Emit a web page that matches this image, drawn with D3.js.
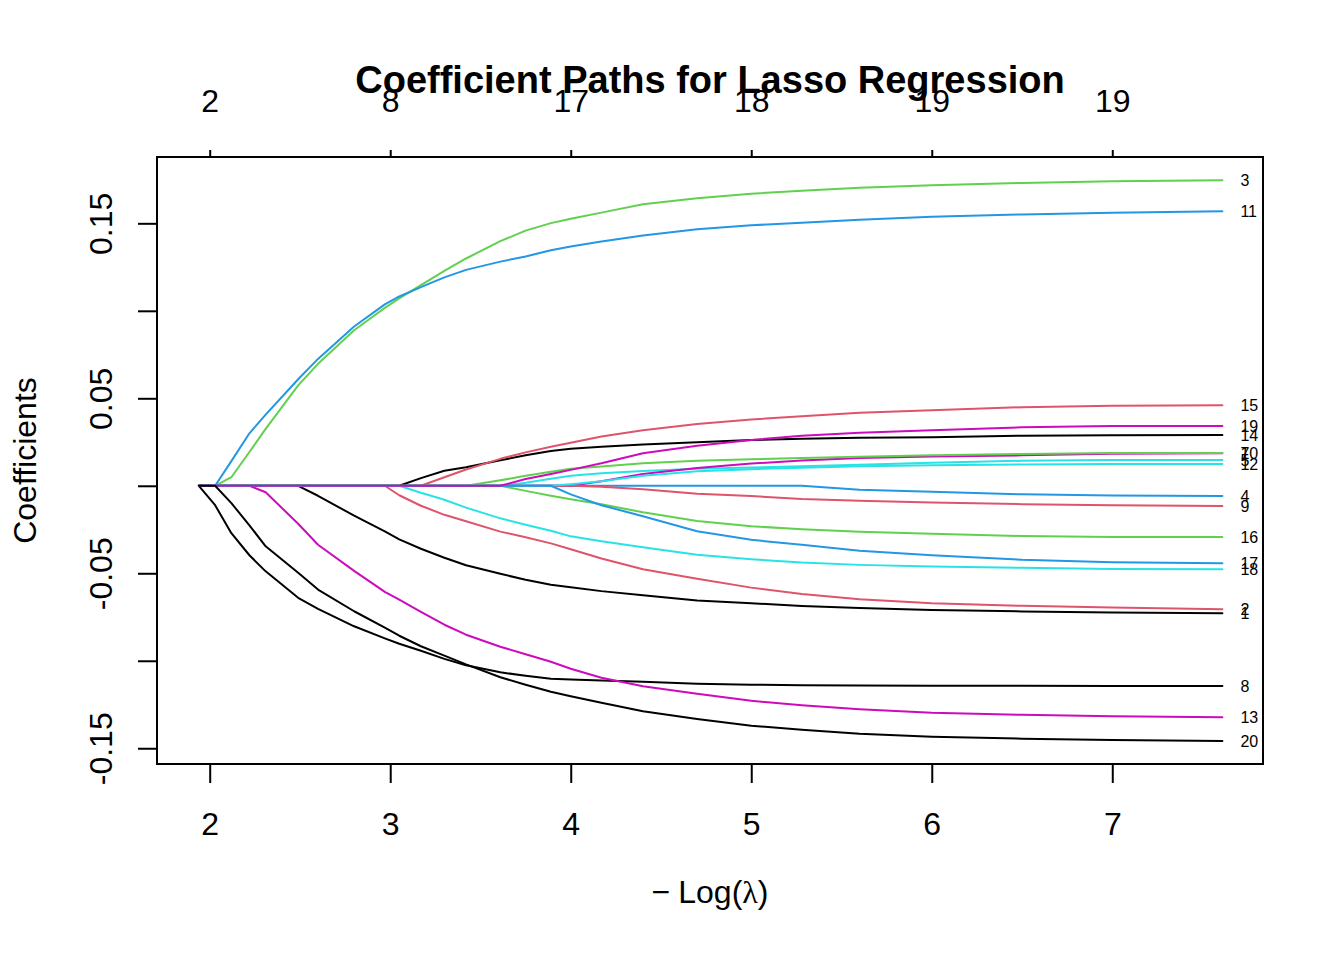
<!DOCTYPE html>
<html lang="en">
<head>
  <meta charset="UTF-8">
  <title>Coefficient Paths for Lasso Regression</title>
  <script src="https://cdn.jsdelivr.net/npm/d3@7"></script>
  <style>
    body { margin: 0; background: #fff; }
    text { font-family: "Liberation Sans", Arial, sans-serif; fill: #000; }
  </style>
</head>
<body>
<svg></svg>
<script>
  const width = 1344, height = 960
  const box = {left: 157, right: 1263, top: 157, bottom: 764}

  const negLogLambda = [1.94, 2.03, 2.12, 2.22, 2.31, 2.49, 2.6, 2.8, 2.97, 3.05, 3.17, 3.3, 3.42, 3.61,
    3.75, 3.89, 4.0, 4.17, 4.4, 4.7, 5.0, 5.28, 5.6, 6.0, 6.5, 7.0, 7.61]

  // coefficient of each variable along the path (variable 6 never leaves zero, so it is not drawn)
  const b1 = [0, 0, 0, 0, 0, 0, -0.0057, -0.0171, -0.026, -0.0306, -0.036, -0.0411, -0.0454, -0.0503,
    -0.0537, -0.0566, -0.058, -0.0602, -0.0625, -0.0656, -0.0671, -0.0687, -0.0699, -0.071, -0.0718, -0.0724, -0.0729]
  const b2 = [0, 0, 0, 0, 0, 0, 0, 0, 0, -0.0054, -0.0114, -0.0166, -0.0203, -0.0262,
    -0.0294, -0.0329, -0.0363, -0.0416, -0.0477, -0.0531, -0.0582, -0.0619, -0.0649, -0.0671, -0.0686, -0.0695, -0.0706]
  const b3 = [0, 0, 0.0049, 0.0193, 0.0325, 0.0574, 0.0697, 0.0889, 0.1017, 0.1071, 0.1147, 0.1228, 0.1299, 0.1398,
    0.1458, 0.1501, 0.1526, 0.1561, 0.1609, 0.1643, 0.1669, 0.1686, 0.1703, 0.1717, 0.1731, 0.174, 0.1746]
  const b4 = [0, 0, 0, 0, 0, 0, 0, 0, 0, 0, 0, 0, 0, 0,
    0, 0, 0, 0, 0, 0, 0, 0, -0.0023, -0.0034, -0.0049, -0.0056, -0.0059]
  const b5 = [0, 0, 0, 0, 0, 0, 0, 0, 0, 0, 0, 0, 0, 0,
    0.0017, 0.004, 0.0057, 0.0071, 0.0085, 0.0097, 0.0104, 0.0111, 0.012, 0.0131, 0.0143, 0.0147, 0.0147]
  const b7 = [0, 0, 0, 0, 0, 0, 0, 0, 0, 0, 0, 0, 0, 0,
    0, 0, 0, 0.0026, 0.0068, 0.0102, 0.0127, 0.0144, 0.0159, 0.0167, 0.0174, 0.0183, 0.0186]
  const b8 = [0, -0.0111, -0.0271, -0.0397, -0.0489, -0.064, -0.0703, -0.0803, -0.0872, -0.0903, -0.0943, -0.0989, -0.1026, -0.1066,
    -0.1086, -0.1103, -0.1107, -0.1113, -0.112, -0.1131, -0.1137, -0.114, -0.1142, -0.1143, -0.1143, -0.1144, -0.1144]
  const b9 = [0, 0, 0, 0, 0, 0, 0, 0, 0, 0, 0, 0, 0, 0,
    0, 0, 0, -0.0006, -0.002, -0.0045, -0.0059, -0.0076, -0.0085, -0.0096, -0.0105, -0.0111, -0.0115]
  const b10 = [0, 0, 0, 0, 0, 0, 0, 0, 0, 0, 0, 0, 0, 0.0031,
    0.0057, 0.008, 0.0097, 0.011, 0.0129, 0.0143, 0.0151, 0.0159, 0.0166, 0.0174, 0.0182, 0.0187, 0.0187]
  const b11 = [0, 0, 0.0141, 0.03, 0.0407, 0.0609, 0.0725, 0.091, 0.1037, 0.1082, 0.1135, 0.1191, 0.1234, 0.1281,
    0.131, 0.1346, 0.1368, 0.1396, 0.1431, 0.1466, 0.1489, 0.1503, 0.152, 0.1537, 0.1551, 0.156, 0.1569]
  const b12 = [0, 0, 0, 0, 0, 0, 0, 0, 0, 0, 0, 0, 0, 0,
    0, 0, 0.0009, 0.0026, 0.0058, 0.0083, 0.0095, 0.0103, 0.0111, 0.0117, 0.0122, 0.0124, 0.0125]
  const b13 = [0, 0, 0, 0, -0.0037, -0.0217, -0.0337, -0.0486, -0.0606, -0.0651, -0.072, -0.0794, -0.0851, -0.092,
    -0.0963, -0.1006, -0.1046, -0.1097, -0.1146, -0.1189, -0.1229, -0.1254, -0.1277, -0.1297, -0.1309, -0.1317, -0.1323]
  const b14 = [0, 0, 0, 0, 0, 0, 0, 0, 0, 0, 0.0044, 0.0086, 0.0106, 0.0146,
    0.0174, 0.0199, 0.0211, 0.0223, 0.0236, 0.0249, 0.0262, 0.0269, 0.0274, 0.0278, 0.0286, 0.0289, 0.029]
  const b15 = [0, 0, 0, 0, 0, 0, 0, 0, 0, 0, 0, 0.0049, 0.0093, 0.0154,
    0.0191, 0.0223, 0.0246, 0.0282, 0.0318, 0.0353, 0.0379, 0.0397, 0.0417, 0.0432, 0.0449, 0.0457, 0.046]
  const b16 = [0, 0, 0, 0, 0, 0, 0, 0, 0, 0, 0, 0, 0, 0,
    -0.0029, -0.0057, -0.0077, -0.0106, -0.0151, -0.0201, -0.0231, -0.0249, -0.0263, -0.0274, -0.0287, -0.0293, -0.0293]
  const b17 = [0, 0, 0, 0, 0, 0, 0, 0, 0, 0, 0, 0, 0, 0,
    0, 0, -0.0049, -0.0111, -0.0174, -0.026, -0.0309, -0.0337, -0.0371, -0.0397, -0.0423, -0.0437, -0.0443]
  const b18 = [0, 0, 0, 0, 0, 0, 0, 0, 0, 0, -0.004, -0.008, -0.0125, -0.0186,
    -0.0223, -0.0257, -0.0289, -0.0317, -0.0351, -0.0394, -0.042, -0.0439, -0.0452, -0.0461, -0.0469, -0.0476, -0.0477]
  const b19 = [0, 0, 0, 0, 0, 0, 0, 0, 0, 0, 0, 0, 0, 0,
    0.0039, 0.0067, 0.0091, 0.0129, 0.0186, 0.0229, 0.0262, 0.0286, 0.0303, 0.0317, 0.0334, 0.0341, 0.0342]
  const b20 = [0, 0, -0.0099, -0.0226, -0.0346, -0.0497, -0.0593, -0.0717, -0.0811, -0.0857, -0.0917, -0.0971, -0.1021, -0.1094,
    -0.1137, -0.1177, -0.1203, -0.124, -0.1289, -0.1333, -0.1371, -0.1394, -0.1417, -0.1434, -0.1445, -0.1453, -0.1459]

  const varNames = ['1', '2', '3', '4', '5', '7', '8', '9', '10', '11', '12', '13', '14', '15', '16', '17', '18', '19', '20']
  const paths = [b1, b2, b3, b4, b5, b7, b8, b9, b10, b11, b12, b13, b14, b15, b16, b17, b18, b19, b20]

  // ticks
  const xTicks = [2, 3, 4, 5, 6, 7]
  const dfLabels = ['2', '8', '17', '18', '19', '19']
  const yTicks = [-0.15, -0.1, -0.05, 0, 0.05, 0.1, 0.15]
  const yLabelled = [-0.15, -0.05, 0.05, 0.15]

  // R default palette, cycled like matplot col = 1:6
  const palette = ['#000000', '#DF536B', '#61D04F', '#2297E6', '#28E2E5', '#CD0BBC']

  const svg = d3.select('svg')
      .attr('width', width)
      .attr('height', height)
      .attr('viewBox', [0, 0, width, height])

  const x = d3.scaleLinear()
      .domain([1.708, 7.835])
      .range([box.left, box.right])

  const y = d3.scaleLinear()
      .domain([-0.159, 0.1879])
      .range([box.bottom, box.top])

  const line = d3.line()
      .x((d, i) => x(negLogLambda[i]))
      .y(d => y(d))

  svg.append('g')
      .attr('fill', 'none')
      .attr('stroke-width', 2)
      .attr('stroke-linejoin', 'round')
      .attr('stroke-linecap', 'round')
    .selectAll('path')
    .data(paths)
    .join('path')
      .attr('stroke', (d, i) => palette[i % palette.length])
      .attr('d', line)

  // variable labels at the end of each path
  svg.append('g')
      .attr('font-size', 16)
    .selectAll('text')
    .data(paths)
    .join('text')
      .attr('x', x(negLogLambda[negLogLambda.length - 1]) + 18)
      .attr('y', d => y(d[d.length - 1]))
      .attr('dy', '0.35em')
      .text((d, i) => varNames[i])

  // bottom axis
  const gx = svg.append('g')
      .attr('transform', `translate(0,${box.bottom})`)
      .call(d3.axisBottom(x).tickValues(xTicks).tickFormat(d3.format('d'))
          .tickSize(19).tickPadding(29))
  gx.select('.domain').remove()
  gx.selectAll('line').attr('stroke-width', 2)
  gx.selectAll('text').attr('font-size', 32).attr('font-family', null)

  // top axis: degrees of freedom
  const gt = svg.append('g')
      .attr('transform', `translate(0,${box.top})`)
      .call(d3.axisTop(x).tickValues(xTicks).tickFormat((d, i) => dfLabels[i])
          .tickSize(7).tickPadding(38))
  gt.select('.domain').remove()
  gt.selectAll('line').attr('stroke-width', 2)
  gt.selectAll('text').attr('font-size', 32).attr('font-family', null)

  // left axis, labels turned like R's las = 0
  const gy = svg.append('g')
      .attr('transform', `translate(${box.left},0)`)
      .call(d3.axisLeft(y).tickValues(yTicks)
          .tickFormat(d => yLabelled.some(v => Math.abs(v - d) < 1e-9) ? d3.format('.2f')(d).replace('−', '-') : '')
          .tickSize(19))
  gy.select('.domain').remove()
  gy.selectAll('line').attr('stroke-width', 2)
  gy.selectAll('text')
      .attr('font-size', 32)
      .attr('font-family', null)
      .attr('x', 0)
      .attr('y', -45)
      .attr('dy', null)
      .attr('text-anchor', 'middle')
      .attr('transform', 'rotate(-90)')

  // plot frame
  svg.append('rect')
      .attr('x', box.left)
      .attr('y', box.top)
      .attr('width', box.right - box.left)
      .attr('height', box.bottom - box.top)
      .attr('fill', 'none')
      .attr('stroke', '#000')
      .attr('stroke-width', 2)

  // titles
  const cx = (box.left + box.right) / 2
  svg.append('text')
      .attr('x', cx)
      .attr('y', 93)
      .attr('text-anchor', 'middle')
      .attr('font-size', 38)
      .attr('font-weight', 'bold')
      .text('Coefficient Paths for Lasso Regression')

  svg.append('text')
      .attr('transform', `translate(36,${(box.top + box.bottom) / 2}) rotate(-90)`)
      .attr('text-anchor', 'middle')
      .attr('font-size', 32)
      .text('Coefficients')

  const xl = svg.append('text')
      .attr('x', cx)
      .attr('y', 903)
      .attr('text-anchor', 'middle')
      .attr('font-size', 32)
  xl.append('tspan').text('\u2212')
  xl.append('tspan').attr('dx', 8).text('Log(')
  xl.append('tspan').style('font-family', '"Liberation Serif", "DejaVu Serif", serif').text('\u03bb')
  xl.append('tspan').text(')')
</script>
</body>
</html>
